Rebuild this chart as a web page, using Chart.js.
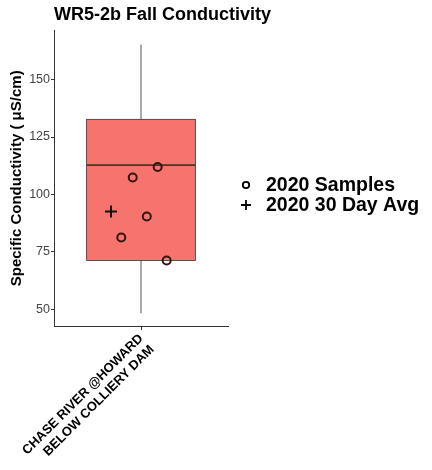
<!DOCTYPE html>
<html>
<head>
<meta charset="utf-8">
<script src="https://cdn.jsdelivr.net/npm/chart.js@4/dist/chart.umd.min.js"></script>
<style>
  html, body { margin: 0; padding: 0; background: #fff; }
  #wrap { width: 432px; height: 470px; }
</style>
</head>
<body>
<div id="wrap"><canvas id="boxChart"></canvas></div>
<script>
// site / category
var siteLabel = ['CHASE RIVER @HOWARD', 'BELOW COLLIERY DAM'];
var siteX = 1;

// box summary (whisker low, lower hinge, median, upper hinge, whisker high)
var boxStats = [48.3, 71.3, 112.8, 132.7, 165.2];

// 2020 samples (x is the jitter offset around the site)
var sampleX = [1.115, 0.943, 1.04, 0.864, 1.177];
var sampleY = [112.0, 107.4, 90.4, 81.3, 71.3];

// 2020 30 day average
var avgX = [0.793];
var avgY = [92.6];

var yTicks = [50, 75, 100, 125, 150];
var legendNames = ['2020 Samples', '2020 30 Day Avg'];

var samplePts = sampleX.map(function (x, i) { return {x: x, y: sampleY[i]}; });
var avgPts = avgX.map(function (x, i) { return {x: x, y: avgY[i]}; });

var FONT = "'Liberation Sans', Arial, Helvetica, sans-serif";

// draws the box, median and whiskers using the chart scales
var boxPlot = {
    id: 'boxPlot',
    afterLayout: function (chart) {
        // let the title run past the plot area instead of being squeezed
        if (chart.titleBlock) chart.titleBlock.right = chart.width;
    },
    beforeDatasetsDraw: function (chart) {
        var ctx = chart.ctx;
        var xs = chart.scales.x, ys = chart.scales.y;
        var cx = xs.getPixelForValue(siteX);
        var left = xs.getPixelForValue(siteX - 0.375);
        var right = xs.getPixelForValue(siteX + 0.375);
        var yWl = ys.getPixelForValue(boxStats[0]);
        var yQ1 = ys.getPixelForValue(boxStats[1]);
        var yMed = ys.getPixelForValue(boxStats[2]);
        var yQ3 = ys.getPixelForValue(boxStats[3]);
        var yWh = ys.getPixelForValue(boxStats[4]);
        ctx.save();
        // whiskers
        ctx.strokeStyle = '#555';
        ctx.lineWidth = 1;
        ctx.beginPath();
        ctx.moveTo(cx, yWh); ctx.lineTo(cx, yQ3);
        ctx.moveTo(cx, yQ1); ctx.lineTo(cx, yWl);
        ctx.stroke();
        // box
        ctx.fillStyle = '#F7736D';
        ctx.fillRect(left, yQ3, right - left, yQ1 - yQ3);
        ctx.strokeStyle = '#333';
        ctx.lineWidth = 0.8;
        ctx.strokeRect(left, yQ3, right - left, yQ1 - yQ3);
        // median
        ctx.strokeStyle = '#47391f';
        ctx.lineWidth = 1.6;
        ctx.beginPath();
        ctx.moveTo(left, yMed); ctx.lineTo(right, yMed);
        ctx.stroke();
        ctx.restore();
    }
};

// legend at the right, like ggplot's
var sideLegend = {
    id: 'sideLegend',
    afterDraw: function (chart) {
        var ctx = chart.ctx;
        var mx = 246, tx = 266;
        var rows = [185, 205];
        ctx.save();
        ctx.strokeStyle = '#000';
        ctx.lineWidth = 1.8;
        // circle
        ctx.beginPath();
        ctx.arc(mx, rows[0], 3.2, 0, Math.PI * 2);
        ctx.stroke();
        // cross
        ctx.beginPath();
        ctx.moveTo(mx - 5, rows[1]); ctx.lineTo(mx + 5, rows[1]);
        ctx.moveTo(mx, rows[1] - 5); ctx.lineTo(mx, rows[1] + 5);
        ctx.stroke();
        ctx.fillStyle = '#000';
        ctx.font = 'bold 19.5px ' + FONT;
        ctx.textBaseline = 'middle';
        ctx.textAlign = 'left';
        legendNames.forEach(function (name, i) {
            ctx.fillText(name, tx, rows[i] + 1);
        });
        ctx.restore();
    }
};

var ctx = document.getElementById('boxChart').getContext('2d');

var myChart = new Chart(ctx, {
    type: 'scatter',
    data: {
        datasets: [{
            label: legendNames[0],
            data: samplePts,
            pointStyle: 'circle',
            pointRadius: 4,
            pointBorderWidth: 2,
            borderColor: '#331410',
            backgroundColor: 'rgba(0,0,0,0)'
        }, {
            label: legendNames[1],
            data: avgPts,
            pointStyle: 'cross',
            pointRadius: 6,
            pointBorderWidth: 2,
            borderColor: '#111',
            backgroundColor: 'rgba(0,0,0,0)'
        }]
    },
    options: {
        responsive: true,
        maintainAspectRatio: false,
        animation: false,
        events: [],
        layout: { padding: { right: 204 } },
        plugins: {
            legend: { display: false },
            tooltip: { enabled: false },
            title: {
                display: true,
                text: 'WR5-2b Fall Conductivity',
                align: 'start',
                fullSize: false,
                color: '#000',
                font: { family: FONT, size: 18, weight: 'bold' },
                padding: { top: 4, bottom: 5 }
            }
        },
        scales: {
            x: {
                type: 'linear',
                min: 0.4,
                max: 1.6,
                afterBuildTicks: function (scale) {
                    scale.ticks = [{ value: siteX }];
                },
                afterFit: function (scale) {
                    scale.height = 144;
                    scale.paddingLeft = 0;
                    scale.paddingRight = 0;
                },
                grid: { display: true, drawOnChartArea: false, drawTicks: true, tickLength: 4, color: '#333' },
                border: { display: true, color: '#333', width: 1 },
                ticks: {
                    autoSkip: false,
                    minRotation: 45,
                    maxRotation: 45,
                    padding: 1,
                    color: '#000',
                    font: { family: FONT, size: 13, weight: 'bold' },
                    callback: function () { return siteLabel; }
                }
            },
            y: {
                min: 42.8,
                max: 171.3,
                afterBuildTicks: function (scale) {
                    scale.ticks = yTicks.map(function (v) { return { value: v }; });
                },
                afterFit: function (scale) {
                    scale.width = 54;
                    scale.paddingTop = 0;
                    scale.paddingBottom = 0;
                },
                grid: { display: true, drawOnChartArea: false, drawTicks: true, tickLength: 3, color: '#333' },
                border: { display: true, color: '#333', width: 1 },
                ticks: {
                    padding: 1,
                    color: '#444',
                    font: { family: FONT, size: 12.5 }
                },
                title: {
                    display: true,
                    text: 'Specific Conductivity ( \u03bcS/cm)',
                    color: '#000',
                    font: { family: FONT, size: 15, weight: 'bold' },
                    padding: { top: 8, bottom: 2 }
                }
            }
        }
    },
    plugins: [boxPlot, sideLegend]
});
</script>
</body>
</html>
